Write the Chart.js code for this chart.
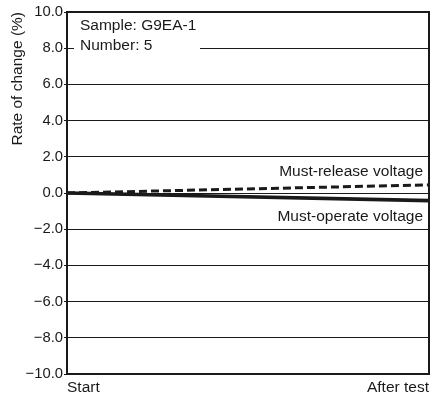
<!DOCTYPE html>
<html>
<head>
<meta charset="utf-8">
<script src="https://cdn.jsdelivr.net/npm/chart.js@4/dist/chart.umd.min.js"></script>
<style>
  html, body { margin: 0; padding: 0; background: #fff; }
  #wrap { width: 433px; height: 395px; position: relative; }
</style>
</head>
<body>
<div id="wrap"><canvas id="c"></canvas></div>
<script>
// Rate-of-change data for the G9EA-1 sample
const categories = ['Start', 'After test'];
const mustRelease = [0, 0.45];
const mustOperate = [0, -0.42];
const yTickValues = [-10, -8, -6, -4, -2, 0, 2, 4, 6, 8, 10];
const yTickLabels = ['\u221210.0', '\u22128.0', '\u22126.0', '\u22124.0', '\u22122.0', '0.0', '2.0', '4.0', '6.0', '8.0', '10.0'];
const noteLines = ['Sample: G9EA-1', 'Number: 5'];
const seriesNames = ['Must-release voltage', 'Must-operate voltage'];

const FONT = '"Liberation Sans", Arial, Helvetica, sans-serif';
const INK = '#1a1a1a';

// Frame, note box and series captions
const decorations = {
  id: 'decorations',
  beforeDatasetsDraw(chart) {
    const { ctx, chartArea: a, scales: { y } } = chart;
    ctx.save();
    // white box behind the sample note, over the 8.0 grid line
    ctx.fillStyle = '#fff';
    ctx.fillRect(a.left + 7, a.top + 3, 126, y.getPixelForValue(8) - a.top + 8);
    ctx.fillStyle = INK;
    ctx.font = '15.5px ' + FONT;
    ctx.textAlign = 'left';
    ctx.textBaseline = 'alphabetic';
    ctx.fillText(noteLines[0], a.left + 13, a.top + 18);
    ctx.fillText(noteLines[1], a.left + 13, a.top + 38);
    ctx.textAlign = 'right';
    const y0 = y.getPixelForValue(0);
    ctx.fillText(seriesNames[0], a.right - 6, y0 - 17);
    ctx.fillText(seriesNames[1], a.right - 6, y0 + 28);
    ctx.restore();
  },
  afterDraw(chart) {
    const { ctx, chartArea: a } = chart;
    ctx.save();
    ctx.strokeStyle = INK;
    ctx.lineWidth = 2;
    ctx.strokeRect(a.left, a.top, a.right - a.left, a.bottom - a.top);
    ctx.restore();
  }
};

new Chart(document.getElementById('c'), {
  type: 'line',
  data: {
    labels: categories,
    datasets: [
      {
        label: seriesNames[0],
        data: mustRelease,
        borderColor: INK,
        borderWidth: 3,
        borderDash: [8, 4],
        pointRadius: 0,
        tension: 0,
        fill: false
      },
      {
        label: seriesNames[1],
        data: mustOperate,
        borderColor: INK,
        borderWidth: 3.6,
        pointRadius: 0,
        tension: 0,
        fill: false
      }
    ]
  },
  options: {
    responsive: true,
    maintainAspectRatio: false,
    animation: false,
    devicePixelRatio: 1,
    layout: { padding: { top: 12, right: 4, left: 0, bottom: 0 } },
    plugins: { legend: { display: false }, tooltip: { enabled: false } },
    scales: {
      x: {
        type: 'category',
        offset: false,
        border: { display: false },
        grid: { display: true, color: INK, lineWidth: 1, drawTicks: false, tickLength: 0 },
        ticks: {
          align: 'inner',
          padding: 4,
          maxRotation: 0,
          autoSkip: false,
          color: INK,
          font: { family: FONT, size: 15.5 }
        },
        afterFit(scale) { scale.height = 21; }
      },
      y: {
        min: -10,
        max: 10,
        border: { display: false },
        afterBuildTicks(scale) { scale.ticks = yTickValues.map(v => ({ value: v })); },
        grid: { color: INK, lineWidth: 1, tickLength: 3 },
        ticks: {
          padding: 1,
          color: INK,
          font: { family: FONT, size: 14.8 },
          callback(v) { return yTickLabels[yTickValues.indexOf(v)]; }
        },
        title: {
          display: true,
          text: 'Rate of change (%)',
          align: 'end',
          color: INK,
          font: { family: FONT, size: 15.5 },
          padding: { top: 8, bottom: 0 }
        },
        afterFit(scale) { scale.width = 67; }
      }
    }
  },
  plugins: [decorations]
});
</script>
</body>
</html>
